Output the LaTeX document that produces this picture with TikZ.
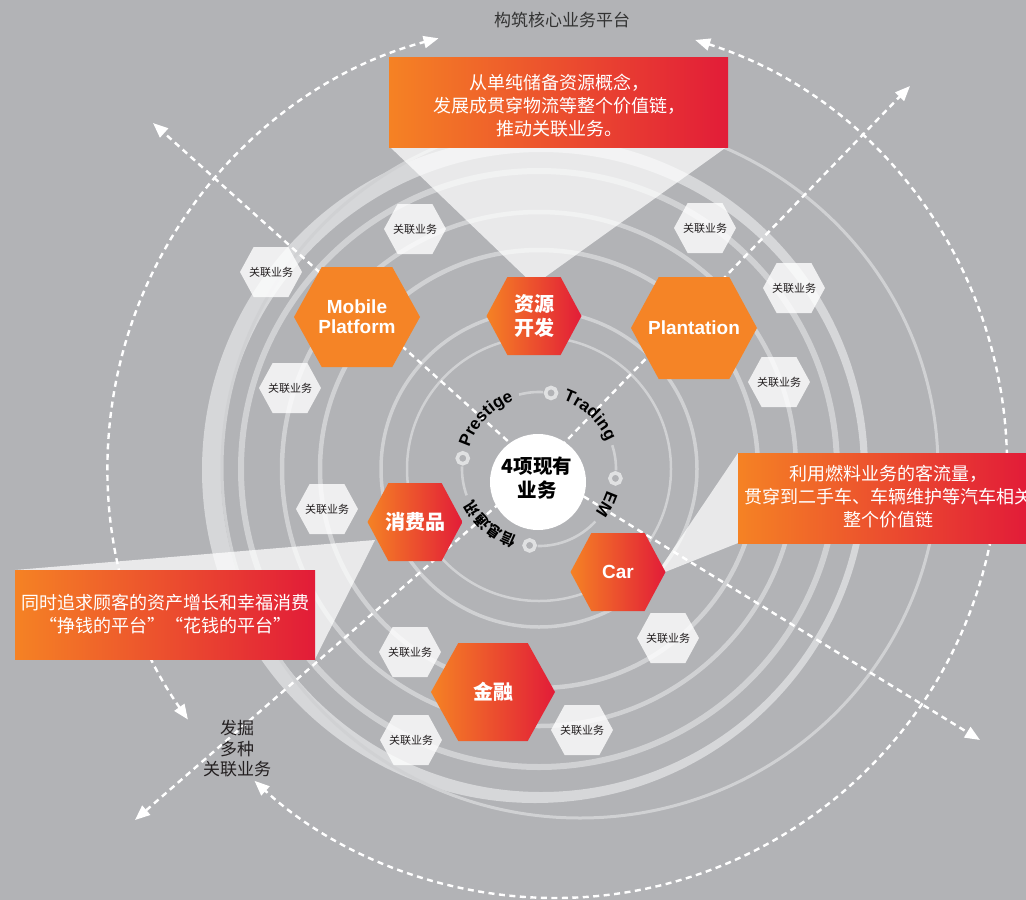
\documentclass[tikz,border=0pt]{standalone}
\usepackage{fontspec}
\setmainfont{Liberation Sans}
\newfontfamily\cjk{Noto Sans CJK SC}
\usetikzlibrary{arrows.meta,decorations.text}
\definecolor{bg}{RGB}{178,179,182}
\definecolor{ringc}{RGB}{208,209,211}
\definecolor{ringt}{RGB}{214,215,217}
\definecolor{markc}{RGB}{224,225,226}
\definecolor{orA}{RGB}{245,130,36}
\definecolor{rdB}{RGB}{226,28,56}
\definecolor{hexor}{RGB}{245,132,38}
\definecolor{txtd}{RGB}{35,31,32}
\newcommand\hexshape[5]{\path[#1] ({#2-#4/2},#3) -- ({#2-0.28*#4},{#3-#5/2}) -- ({#2+0.28*#4},{#3-#5/2}) -- ({#2+#4/2},#3) -- ({#2+0.28*#4},{#3+#5/2}) -- ({#2-0.28*#4},{#3+#5/2}) -- cycle;}
\newcommand\relhex[3]{\hexshape{smallhex}{#2}{#3}{62}{50}\node[rellabel] (#1) at (#2,#3) {关联业务};}
\begin{document}
\begin{tikzpicture}[x=1pt,y=-1pt,
  >={Triangle[length=15pt,width=12pt]},
  ringline/.style={draw=ringc},
  dashline/.style={draw=white, line width=2.4pt, dash pattern=on 6pt off 4.5pt},
  wedge/.style={fill=white, fill opacity=0.72},
  callout/.style={left color=orA, right color=rdB},
  callouttext/.style={text=white, font=\cjk\fontsize{18}{23}\selectfont, align=center, inner sep=0pt},
  smallhex/.style={fill=white, fill opacity=0.8},
  rellabel/.style={text=txtd, font=\cjk\fontsize{11}{11}\selectfont, inner sep=0pt},
  hexsolid/.style={fill=hexor},
  hexgrad/.style={left color=orA, right color=rdB},
  hexlabel/.style={text=white, font=\bfseries\fontsize{19}{20}\selectfont, align=center, inner sep=0pt},
  hexcjk/.style={text=white, font=\cjk\bfseries\fontsize{20}{24}\selectfont, align=center, inner sep=0pt},
  marker/.style={circle, draw=markc, line width=3.6pt, fill=bg, minimum size=11pt, inner sep=0pt},
  darktext/.style={text=txtd, font=\cjk\fontsize{17}{20.5}\selectfont, align=center, inner sep=0pt}
]
\fill[bg] (0,0) rectangle (1026,900);
\useasboundingbox (0,0) rectangle (1026,900);
\coordinate (c) at (539,469);

% background rings
\draw[ringline, line width=2.5pt] (c) circle[radius=132];
\draw[ringline, line width=3.5pt] (c) circle[radius=158];
\draw[ringline, line width=4.5pt] (c) circle[radius=219];
\draw[ringline, line width=4.5pt] (c) circle[radius=257];
\draw[ringline, line width=6pt] (c) circle[radius=298];
\fill[ringt, even odd rule] (535,470) circle[radius=333] (541,472) circle[radius=320];
\draw[ringline, line width=3pt] (580,468) ellipse[x radius=358, y radius=350];

% outer dashed arcs
\coordinate (la) at (550,466);
\coordinate (ra) at (560,466);
\coordinate (ba) at (555,454);
\draw[dashline, <->] ([shift={(145:442)}]la) arc[start angle=145, end angle=255.4, radius=442];
\draw[dashline, <-] ([shift={(-72.4:447)}]ra) arc[start angle=-72.4, end angle=8, radius=447];
\draw[dashline, ->] ([shift={(3:444)}]ba) arc[start angle=3, end angle=132.6, radius=444];

% callout wedges
\fill[wedge] (389,146) -- (728,146) -- (534,285) -- cycle;
\fill[wedge] (738,453) -- (738,543) -- (655,576) -- cycle;
\fill[wedge] (15,570) -- (315,659) -- (375,540) -- cycle;

% rays
\coordinate (r1) at (153,123);
\coordinate (r2) at (910,86);
\coordinate (r3) at (980,740);
\coordinate (r4) at (135,820);
\draw[dashline, ->] (c) -- (r1);
\draw[dashline, ->] (c) -- (r2);
\draw[dashline, ->] (c) -- (r3);
\draw[dashline, ->] (c) -- (r4);

% callout boxes
\path[callout] (389,57) rectangle (728,147);
\node[callouttext] (topnote) at (559,106) {从单纯储备资源概念，\\发展成贯穿物流等整个价值链，\\推动关联业务。};
\path[callout] (738,453) rectangle (1026,543);
\node[callouttext] (rightnote1) at (888,474) {利用燃料业务的客流量，};
\node[callouttext, anchor=west] (rightnote2) at (744,497) {贯穿到二手车、车辆维护等汽车相关};
\node[callouttext] (rightnote3) at (888,520) {整个价值链};
\path[callout] (15,570) rectangle (315,659);
\node[callouttext, font=\cjk\fontsize{18}{22.5}\selectfont] (leftnote) at (165,614) {同时追求顾客的资产增长和幸福消费\\“挣钱的平台”“花钱的平台”};

% free texts
\node[darktext, text=black!80] (title) at (562,20) {构筑核心业务平台};
\node[darktext] (dig) at (237,749) {发掘\\多种\\关联业务};

% small related-business hexagons
\relhex{rh1}{415}{229}
\relhex{rh2}{271}{272}
\relhex{rh3}{290}{388}
\relhex{rh4}{327}{509}
\relhex{rh5}{705}{228}
\relhex{rh6}{794}{288}
\relhex{rh7}{779}{382}
\relhex{rh8}{668}{638}
\relhex{rh9}{410}{652}
\relhex{rh10}{582}{730}
\relhex{rh11}{411}{740}

% main hexagons
\hexshape{hexsolid}{357}{317}{126}{100}
\node[hexlabel] (mobile) at (357,317) {Mobile\\Platform};
\hexshape{hexgrad}{534}{316}{95}{78}
\node[hexcjk] (ziyuan) at (534,316) {资源\\开发};
\hexshape{hexsolid}{694}{328}{126}{102}
\node[hexlabel] (plant) at (694,328) {Plantation};
\hexshape{hexgrad}{415}{522}{95}{78}
\node[hexcjk] (xiaofei) at (415,522) {消费品};
\hexshape{hexgrad}{618}{572}{95}{78}
\node[hexlabel] (car) at (618,572) {Car};
\hexshape{hexgrad}{493}{692}{124}{98}
\node[hexcjk] (jinrong) at (493,692) {金融};

% inner ring with gaps
\draw[ringline, line width=2.6pt] ([shift={(-18:77)}]c) arc[start angle=-18, end angle=1, radius=77];
\draw[ringline, line width=2.6pt] ([shift={(43:77)}]c) arc[start angle=43, end angle=91, radius=77];
\draw[ringline, line width=2.6pt] ([shift={(160:77)}]c) arc[start angle=160, end angle=182, radius=77];
\draw[ringline, line width=2.6pt] ([shift={(255:77)}]c) arc[start angle=255, end angle=273, radius=77];
\node[marker] (m1) at ([shift={(-81:77)}]c) {};
\node[marker] (m2) at ([shift={(7:77)}]c) {};
\node[marker] (m3) at ([shift={(97:77)}]c) {};
\node[marker] (m4) at ([shift={(188:77)}]c) {};

% ring labels
\path[decorate, decoration={text along path, text align=center, text={|\bfseries\fontsize{17}{17}\selectfont|Prestige}}] ([shift={(190:73)}]c) arc[start angle=190, end angle=257, radius=73];
\path[decorate, decoration={text along path, text align=center, text={|\bfseries\fontsize{17}{17}\selectfont|Trading}}] ([shift={(-80:73)}]c) arc[start angle=-80, end angle=-13, radius=73];
\path[decorate, decoration={text along path, text align=center, text={|\bfseries\fontsize{17}{17}\selectfont|EM}}] ([shift={(0:71)}]c) arc[start angle=0, end angle=55, radius=71];
\path[decorate, decoration={text along path, text align=center, text={|\cjk\bfseries\fontsize{15}{15}\selectfont|信息通讯}}] ([shift={(100:72)}]c) arc[start angle=100, end angle=163, radius=72];

% core
\node[circle, fill=white, minimum size=96pt, inner sep=0pt] (core) at (538,482) {};
\node[text=black, font=\cjk\bfseries\fontsize{19.5}{24}\selectfont, align=center, inner sep=0pt] (coretext) at (537,478) {4项现有\\业务};
\end{tikzpicture}
\end{document}
